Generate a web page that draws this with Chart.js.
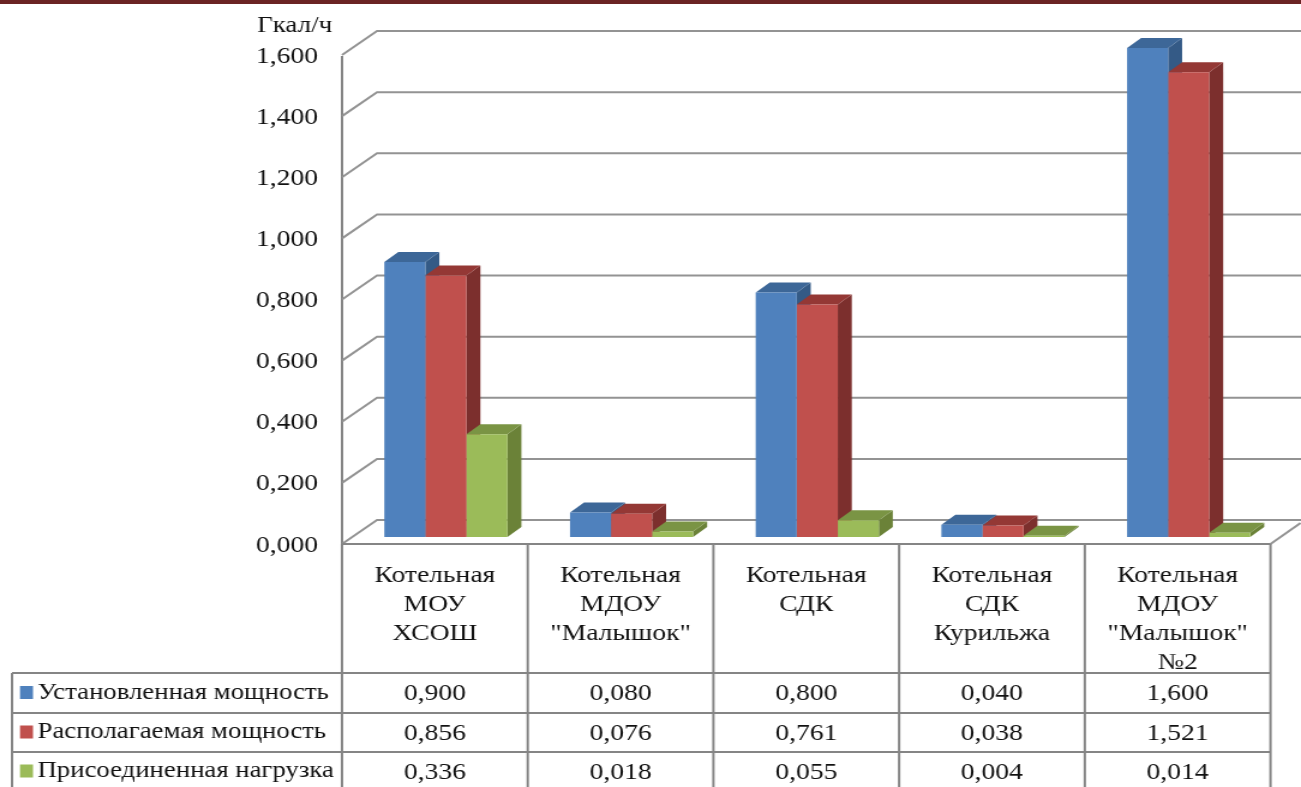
<!DOCTYPE html>
<html>
<head>
<meta charset="utf-8">
<style>
  html, body { margin: 0; padding: 0; background: #fff; overflow: hidden; }
  #topbar { position: absolute; left: 0; top: 0; width: 1301px; height: 4px; background: #6b2424; }
  /* the original is a soft picture stretched sideways, so the canvas is too */
  #chart { position: absolute; left: 0; top: 0; width: 1301px; height: 787px; filter: blur(0.45px); }
</style>
</head>
<body>
<div id="topbar"></div>
<canvas id="chart" width="1084" height="787" style="width:1301px;height:787px"></canvas>
<script src="https://cdn.jsdelivr.net/npm/chart.js@4"></script>
<script>
const categories = [
  ['Котельная', 'МОУ', 'ХСОШ', ' '],
  ['Котельная', 'МДОУ', '"Малышок"', ' '],
  ['Котельная', 'СДК', ' ', ' '],
  ['Котельная', 'СДК', 'Курильжа', ' '],
  ['Котельная', 'МДОУ', '"Малышок"', '№2']
]
const seriesNames = ['Установленная мощность', 'Располагаемая мощность', 'Присоединенная нагрузка']
const installed = [0.900, 0.080, 0.800, 0.040, 1.600]
const available = [0.856, 0.076, 0.761, 0.038, 1.521]
const connected = [0.336, 0.018, 0.055, 0.004, 0.014]
const yTickLabels = ['0,000', '0,200', '0,400', '0,600', '0,800', '1,000', '1,200', '1,400', '1,600']
const unitLabel = 'Гкал/ч'

const frontColors = ['#4f81bd', '#c0504d', '#9bbb59']
const topColors = ['#3d6798', '#943835', '#7a9444']
const sideColors = ['#345a86', '#7c2f2d', '#6b8238']

const STRETCH = 1301 / 1084
const px = v => v / STRETCH
const FONT = '"Liberation Serif", "Times New Roman", serif'
const LINE = '#858585'
const TEXT = '#111111'
// value labels sit a bit under their grid level, so the scale is moved down and the marks back up
const DROP = 1.5

const fmt = v => v.toFixed(3).replace('.', ',')

const pseudo3d = {
  id: 'pseudo3d',
  beforeDatasetsDraw(chart) {
    const ctx = chart.ctx
    const y = chart.scales.y
    const area = chart.chartArea

    // back wall and floor lines
    ctx.strokeStyle = '#939393'
    ctx.lineWidth = 2
    y.ticks.forEach((t, i) => {
      const py = y.getPixelForTick(i) - DROP
      ctx.beginPath()
      ctx.moveTo(area.left, py)
      ctx.lineTo(area.left + px(35), py - 24)
      ctx.lineTo(chart.width, py - 24)
      ctx.stroke()
    })
    ctx.beginPath()
    ctx.moveTo(area.right, area.bottom - DROP)
    ctx.lineTo(area.right + px(30), area.bottom - DROP - 21)
    ctx.stroke()

    // bars stand a little behind the front plane
    ctx.save()
    ctx.translate(px(11), -7 - DROP)

    const dx = px(14)
    const dy = 10
    chart.data.datasets.forEach((ds, d) => {
      chart.getDatasetMeta(d).data.forEach(bar => {
        const l = bar.x - bar.width / 2
        const r = bar.x + bar.width / 2
        ctx.fillStyle = sideColors[d]
        ctx.beginPath()
        ctx.moveTo(r, bar.y)
        ctx.lineTo(r + dx, bar.y - dy)
        ctx.lineTo(r + dx, bar.base - dy)
        ctx.lineTo(r, bar.base)
        ctx.closePath()
        ctx.fill()
        ctx.fillStyle = topColors[d]
        ctx.beginPath()
        ctx.moveTo(l, bar.y)
        ctx.lineTo(l + dx, bar.y - dy)
        ctx.lineTo(r + dx, bar.y - dy)
        ctx.lineTo(r, bar.y)
        ctx.closePath()
        ctx.fill()
      })
    })
  },
  afterDatasetsDraw(chart) {
    const ctx = chart.ctx
    ctx.restore()

    const area = chart.chartArea
    const cellW = (area.right - area.left) / categories.length
    const tableLeft = px(12)
    const tableTop = area.bottom - DROP
    const rowTops = [673, 713, 752]
    const bottom = chart.height

    // data table
    ctx.strokeStyle = LINE
    ctx.lineWidth = 2
    ctx.beginPath()
    ctx.moveTo(area.left, tableTop)
    ctx.lineTo(area.right, tableTop)
    rowTops.forEach(ry => {
      ctx.moveTo(tableLeft, ry)
      ctx.lineTo(area.right, ry)
    })
    ctx.moveTo(tableLeft, rowTops[0])
    ctx.lineTo(tableLeft, bottom)
    for (let i = 0; i <= categories.length; i++) {
      const lx = area.left + i * cellW
      ctx.moveTo(lx, tableTop)
      ctx.lineTo(lx, bottom)
    }
    ctx.stroke()

    ctx.textBaseline = 'middle'
    chart.data.datasets.forEach((ds, d) => {
      const cy = (rowTops[d] + (rowTops[d + 1] || 791)) / 2 + 1
      ctx.fillStyle = frontColors[d]
      ctx.fillRect(px(20), cy - 8, px(13), 13)
      ctx.fillStyle = TEXT
      ctx.textAlign = 'left'
      ctx.font = '22.3px ' + FONT
      ctx.fillText(ds.label, px(37.5), cy - 1)
      ctx.textAlign = 'center'
      ctx.font = '23px ' + FONT
      ds.data.forEach((v, i) => {
        ctx.fillText(fmt(v), chart.scales.x.getPixelForValue(i), cy)
      })
    })

    // unit above the value axis
    ctx.textAlign = 'left'
    ctx.font = '22.5px ' + FONT
    ctx.fillText(unitLabel, px(257), 26)
  }
}

new Chart(document.querySelector('#chart'), {
  type: 'bar',
  plugins: [pseudo3d],
  data: {
    labels: categories,
    datasets: [
      { label: seriesNames[0], data: installed, backgroundColor: frontColors[0] },
      { label: seriesNames[1], data: available, backgroundColor: frontColors[1] },
      { label: seriesNames[2], data: connected, backgroundColor: frontColors[2] }
    ]
  },
  options: {
    responsive: false,
    animation: false,
    events: [],
    layout: {
      autoPadding: false,
      padding: { left: 0, top: 55 + DROP, right: px(1301 - 1270.5), bottom: 0 }
    },
    datasets: {
      bar: { categoryPercentage: 0.663, barPercentage: 1, clip: false, borderWidth: 0 }
    },
    plugins: {
      legend: { display: false },
      tooltip: { enabled: false },
      title: { display: false }
    },
    scales: {
      x: {
        grid: { display: false, drawTicks: false },
        border: { display: false },
        afterFit: s => { s.height = 243 - DROP },
        ticks: {
          autoSkip: false,
          maxRotation: 0,
          minRotation: 0,
          padding: 16,
          color: TEXT,
          font: { family: FONT, size: 23, lineHeight: 29 / 23 }
        }
      },
      y: {
        min: 0,
        max: 1.6,
        grid: { display: false, drawTicks: false },
        border: { display: true, color: LINE, width: 2 },
        afterFit: s => { s.width = px(342) },
        ticks: {
          stepSize: 0.2,
          padding: px(24),
          color: TEXT,
          font: { family: FONT, size: 23 },
          callback: (v, i) => yTickLabels[i]
        }
      }
    }
  }
})
</script>
</body>
</html>
